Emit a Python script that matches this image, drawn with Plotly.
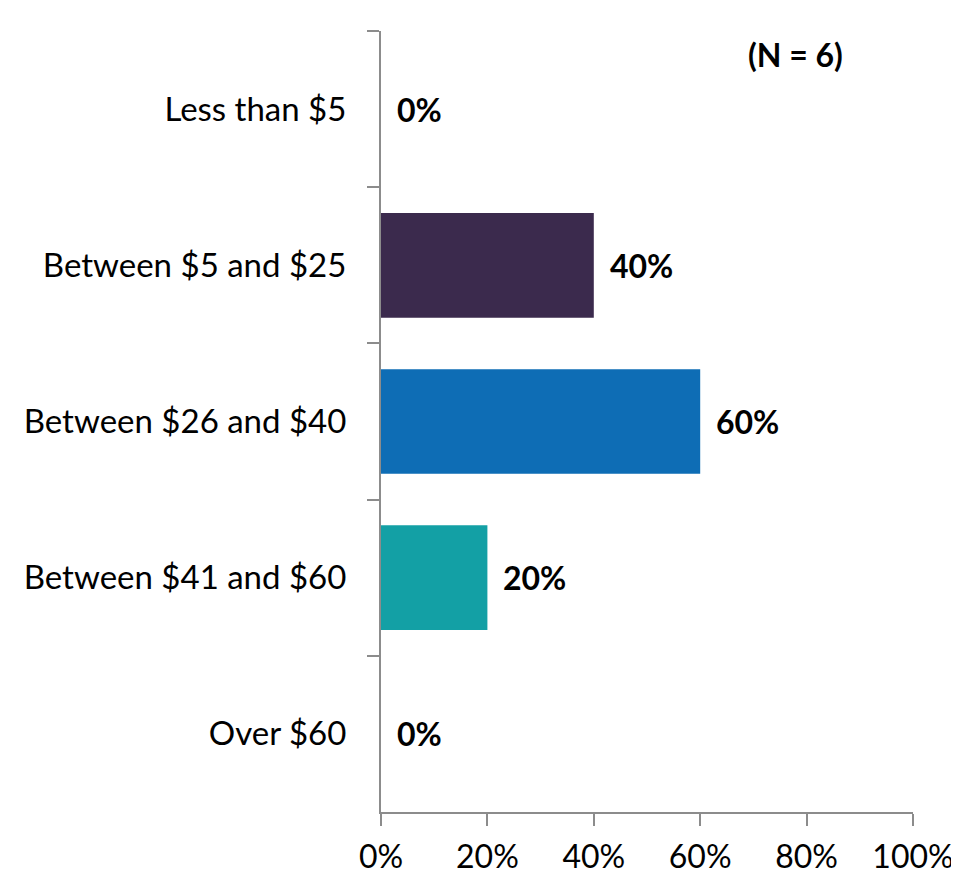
import plotly.graph_objects as go

categories = ["Less than $5", "Between $5 and $25", "Between $26 and $40", "Between $41 and $60", "Over $60"]
values = [0.0, 0.40, 0.60, 0.20, 0.0]
colors = ["#3B2A4D", "#3B2A4D", "#0E6DB5", "#13A0A5", "#13A0A5"]
value_labels = ["0%", "40%", "60%", "20%", "0%"]
note = "(N = 6)"

FONT = "Lato, Calibri, sans-serif"

fig = go.Figure(go.Bar(
    x=values, y=categories, orientation="h",
    marker=dict(color=colors, line=dict(width=0)),
    width=0.67,
))

for c, v, t in zip(categories, values, value_labels):
    fig.add_annotation(x=v, y=c, text=f"<b>{t}</b>", showarrow=False,
                       xanchor="left", xshift=14,
                       font=dict(family=FONT, size=32, color="#000000"))

fig.add_annotation(x=0.78, y=1.0, xref="x", yref="paper", yanchor="top", yshift=-2,
                   xanchor="center",
                   text=f"<b>{note}</b>", showarrow=False,
                   font=dict(family=FONT, size=32, color="#000000"))

fig.update_layout(
    width=951, height=869,
    margin=dict(l=373, r=46, t=23, b=65, autoexpand=False),
    paper_bgcolor="white", plot_bgcolor="white",
    showlegend=False,
    font=dict(family=FONT, size=33, color="#000000"),
    xaxis=dict(range=[0, 1], tickformat=".0%", dtick=0.2, tick0=0,
               showgrid=False, zeroline=False, automargin=False,
               showline=True, linecolor="#8C8C8C", linewidth=2,
               ticks="outside", ticklen=12, tickwidth=2, tickcolor="#8C8C8C",
               ticklabelstandoff=4,
               tickfont=dict(family=FONT, size=32, color="#000000")),
    yaxis=dict(categoryorder="array", categoryarray=categories, autorange="reversed",
               showgrid=False, zeroline=False, automargin=False,
               showline=True, linecolor="#8C8C8C", linewidth=2,
               ticks="outside", ticklen=12, tickwidth=2, tickcolor="#8C8C8C",
               tickson="boundaries",
               ticklabelstandoff=26,
               tickfont=dict(family=FONT, size=33, color="#000000")),
)

fig.write_html("out.html")
